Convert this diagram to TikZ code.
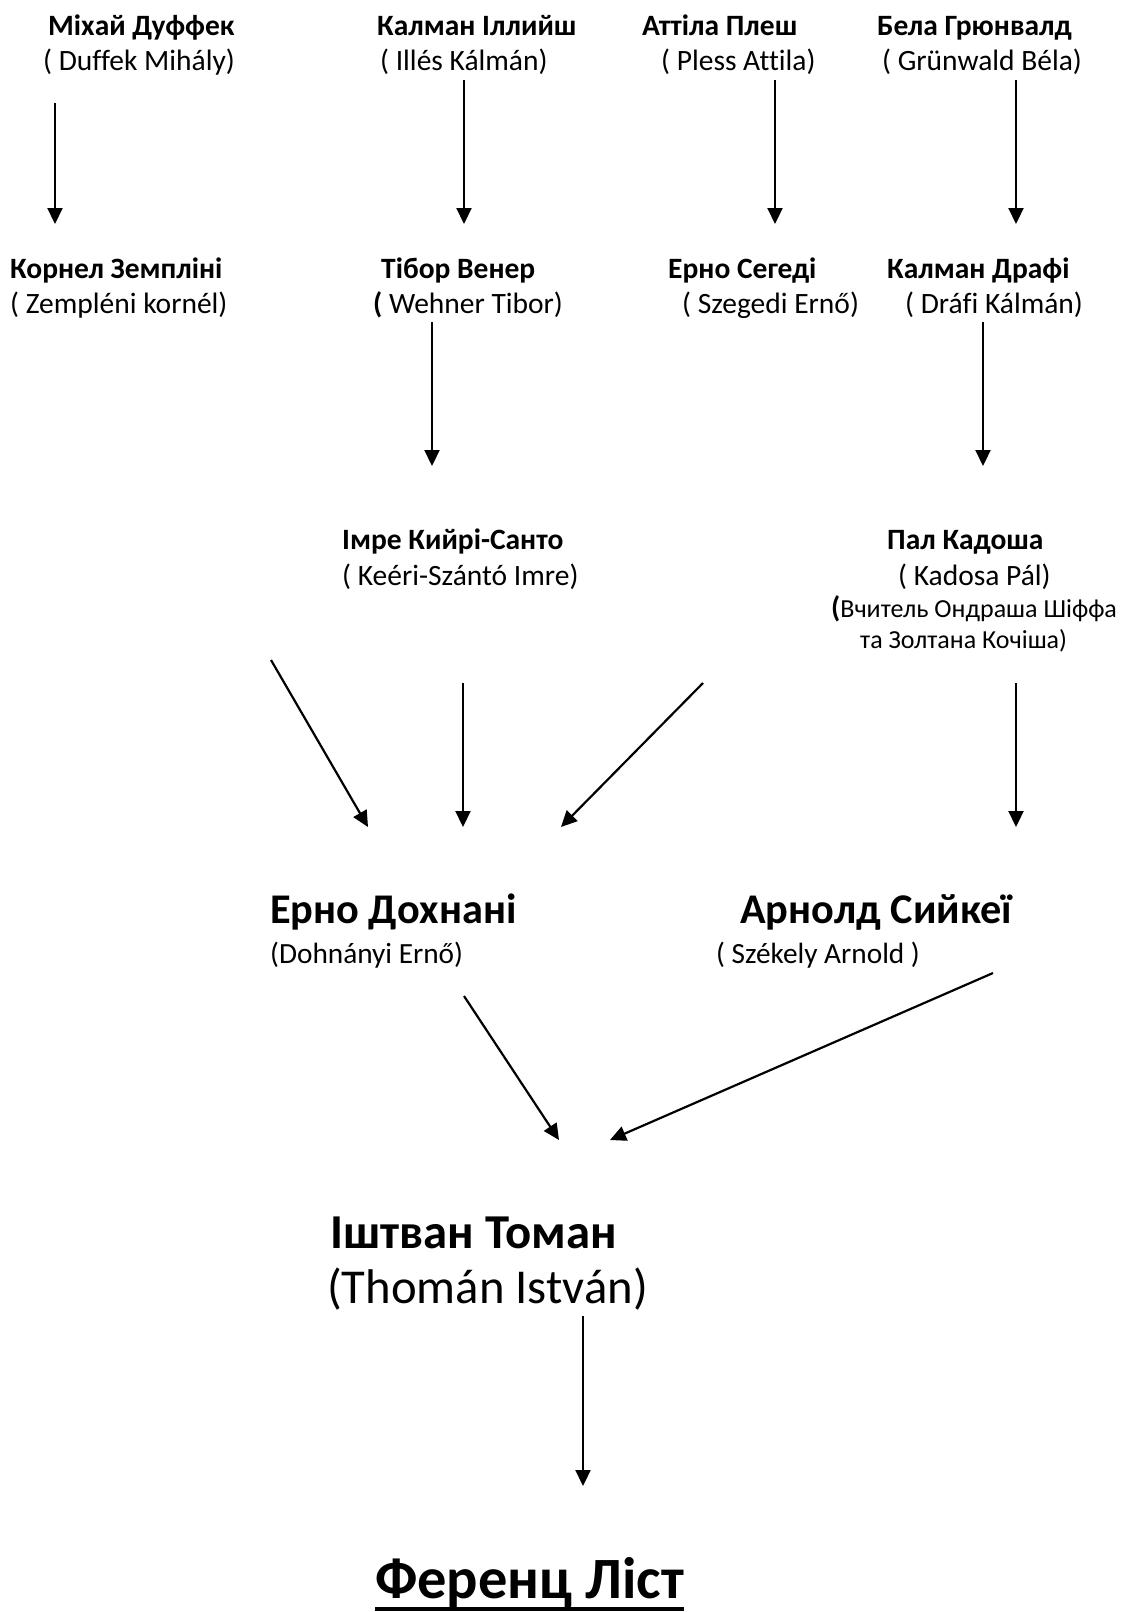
\documentclass[tikz,border=0pt]{standalone}
\usepackage{fontspec}
\setmainfont{Carlito}[Ligatures=CommonOff]
\usetikzlibrary{arrows.meta}
\begin{document}
\begin{tikzpicture}[x=1pt,y=-1pt,
  lbl/.style={inner sep=0pt, anchor=base west},
  nm/.style={lbl, font=\fontsize{29.5}{35}\selectfont\bfseries},
  lt/.style={lbl, font=\fontsize{29.5}{35}\selectfont},
  note/.style={lbl, font=\fontsize{26}{31}\selectfont},
  bigname/.style={lbl, font=\fontsize{42.3}{50}\selectfont\bfseries},
  midlat/.style={lbl, font=\fontsize{29.3}{35}\selectfont},
  tname/.style={lbl, font=\fontsize{48.7}{58}\selectfont\bfseries},
  tlat/.style={lbl, font=\fontsize{48.7}{58}\selectfont},
  liszt/.style={lbl, font=\fontsize{58.5}{70}\selectfont\bfseries},
  arr/.style={line width=2.2pt, -{Triangle[length=16pt,width=15pt]}}]
\useasboundingbox (0,0) rectangle (1128,1612);

% Row 1
\node[nm] (duf) at (48,35) {Міхай Дуффек};
\node[lt] (dufl) at (43,70) {( Duffek Mihály)};
\node[nm] (ill) at (377,35) {Калман Іллийш};
\node[lt] (illl) at (380,70) {( Illés Kálmán)};
\node[nm] (ple) at (642,35) {Аттіла Плеш};
\node[lt] (plel) at (661,70) {( Pless Attila)};
\node[nm] (gru) at (877,35) {Бела Грюнвалд};
\node[lt] (grul) at (882,70) {( Grünwald Béla)};

% Row 2
\node[nm] (zem) at (10,278) {Корнел Земпліні};
\node[lt] (zeml) at (10,313) {( Zempléni kornél)};
\node[nm] (weh) at (381,278) {Тібор Венер};
\node[lt] (wehl) at (373,313) {\textbf{(} Wehner Tibor)};
\node[nm] (sze) at (668,278) {Ерно Сегеді};
\node[lt] (szel) at (682,313) {( Szegedi Ernő)};
\node[nm] (dra) at (887,278) {Калман Драфі};
\node[lt] (dral) at (905,313) {( Dráfi Kálmán)};

% Row 3
\node[nm] (kee) at (342,549) {Імре Кийрі-Санто};
\node[lt] (keel) at (342,585) {( Keéri-Szántó Imre)};
\node[nm] (kad) at (887,549) {Пал Кадоша};
\node[lt] (kadl) at (898,585) {( Kadosa Pál)};
\node[note] (kadn1) at (831,617) {{\fontsize{29.5}{35}\selectfont\bfseries(}Вчитель Ондраша Шіффа};
\node[note] (kadn2) at (860,648) {та Золтана Кочіша)};

% Row 4
\node[bigname] (doh) at (270,923) {Ерно Дохнані};
\node[midlat] (dohl) at (270,963) {(Dohnányi Ernő)};
\node[bigname] (sek) at (740,923) {Арнолд Сийкеї};
\node[midlat] (sekl) at (716,963) {( Székely Arnold )};

% Row 5
\node[tname] (tho) at (330,1248) {Іштван Томан};
\node[tlat] (thol) at (327,1303) {(Thomán István)};

% Row 6
\node[liszt] (lis) at (375,1598) {Ференц Ліст};
\draw[line width=4pt] ([yshift=-11pt]lis.base west) -- ([yshift=-11pt]lis.base east);

% Arrow end points
\coordinate (a1s) at (55,103);   \coordinate (a1e) at (55,224);
\coordinate (a2s) at (464,80);   \coordinate (a2e) at (464,224);
\coordinate (a3s) at (775,80);   \coordinate (a3e) at (775,224);
\coordinate (a4s) at (1016,80);  \coordinate (a4e) at (1016,224);
\coordinate (b1s) at (432,322);  \coordinate (b1e) at (432,466);
\coordinate (b2s) at (983,322);  \coordinate (b2e) at (983,466);
\coordinate (c1s) at (271,660);  \coordinate (c1e) at (368,827);
\coordinate (c2s) at (463,683);  \coordinate (c2e) at (463,827);
\coordinate (c3s) at (703,683);  \coordinate (c3e) at (561,827);
\coordinate (c4s) at (1016,683); \coordinate (c4e) at (1016,827);
\coordinate (d1s) at (464,996);  \coordinate (d1e) at (559,1140);
\coordinate (d2s) at (993,973);  \coordinate (d2e) at (610,1140);
\coordinate (e1s) at (583,1316); \coordinate (e1e) at (583,1486);

\draw[arr] (a1s) -- (a1e);
\draw[arr] (a2s) -- (a2e);
\draw[arr] (a3s) -- (a3e);
\draw[arr] (a4s) -- (a4e);
\draw[arr] (b1s) -- (b1e);
\draw[arr] (b2s) -- (b2e);
\draw[arr] (c1s) -- (c1e);
\draw[arr] (c2s) -- (c2e);
\draw[arr] (c3s) -- (c3e);
\draw[arr] (c4s) -- (c4e);
\draw[arr] (d1s) -- (d1e);
\draw[arr] (d2s) -- (d2e);
\draw[arr] (e1s) -- (e1e);
\end{tikzpicture}
\end{document}
